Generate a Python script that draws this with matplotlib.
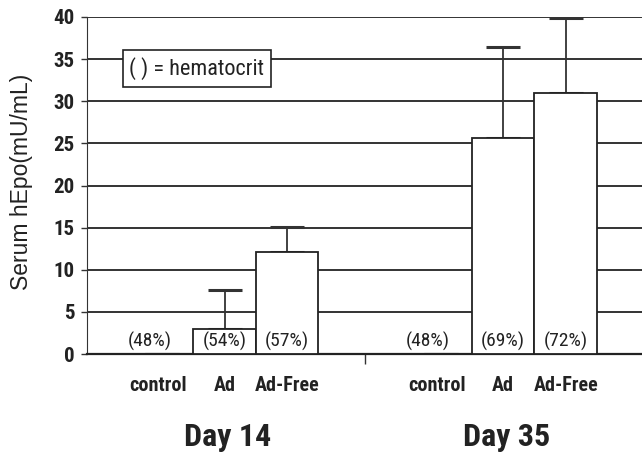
import matplotlib
matplotlib.use("Agg")
import matplotlib.pyplot as plt
import numpy as np

# values (Serum hEpo, mU/mL)
groups = ["Day 14", "Day 35"]
treatments = ["control", "Ad", "Ad-Free"]
day14_mean = [0.0, 3.0, 12.1]
day14_err = [0.0, 4.6, 3.0]
day35_mean = [0.0, 25.6, 31.0]
day35_err = [0.0, 10.8, 8.9]
day14_hct = ["(48%)", "(54%)", "(57%)"]
day35_hct = ["(48%)", "(69%)", "(72%)"]

narrow = ["Roboto Condensed", "DejaVu Sans"]
plain = ["Liberation Sans", "DejaVu Sans"]

fig = plt.figure(figsize=(6.42, 4.54), dpi=100)
ax = fig.add_axes([87 / 642, 1 - 354 / 454, 555 / 642, 337 / 454])

width = 1.0
starts = [1.2, 5.66]
divider = 4.45

for start, means, errs, hct in [(starts[0], day14_mean, day14_err, day14_hct),
                                (starts[1], day35_mean, day35_err, day35_hct)]:
    x = start + np.arange(len(treatments)) * width
    ax.bar(x, means, width=width, color="white", edgecolor="#222222",
           linewidth=1.3, zorder=3)
    ax.errorbar(x, means, yerr=[np.zeros(len(errs)), errs], fmt="none",
                ecolor="#333333", elinewidth=1.3, capsize=12.5, capthick=2.2,
                zorder=2)
    for i, (xi, lab) in enumerate(zip(x, hct)):
        dx = -0.2 if i == 0 else 0.0
        ax.text(xi + dx, 0.3, lab, ha="center", va="bottom", fontsize=14,
                family=narrow, color="#222222", zorder=4)
    for i, (xi, lab) in enumerate(zip(x, treatments)):
        dx = -0.06 if i == 0 else 0.0
        ax.text(xi + dx, -3.7, lab, ha="center", va="center", fontsize=14.5,
                family=narrow, fontweight="bold", color="#222222")

for start, g in zip(starts, groups):
    ax.text(start + 1.05, -9.8, g, ha="center", va="center", fontsize=23,
            family=narrow, fontweight="bold", color="#222222")

ax.set_xlim(0, 8.88)
ax.set_ylim(0, 40)
ax.set_yticks(np.arange(0, 41, 5))
ax.set_yticklabels([str(v) for v in range(0, 41, 5)], family=narrow,
                   fontweight="bold", fontsize=15, color="#222222")
ax.yaxis.grid(True, color="#333333", linewidth=1.4, zorder=0)
ax.set_axisbelow(True)
ax.set_xticks([divider])
ax.set_xticklabels([""])
ax.tick_params(axis="x", direction="out", length=7, width=1, color="#333333")
ax.tick_params(axis="y", direction="out", length=4, width=1, color="#333333",
               pad=5)

for s in ["top", "right"]:
    ax.spines[s].set_visible(False)
ax.spines["left"].set_color("#333333")
ax.spines["bottom"].set_color("#222222")
ax.spines["bottom"].set_linewidth(1.6)

ax.set_ylabel("Serum hEpo(mU/mL)", family=plain, fontsize=16.5, color="#222222")
ax.yaxis.set_label_coords(-0.097, 0.51)

ax.text(1.76, 33.9, "( ) = hematocrit", ha="center", va="center", fontsize=16,
        family=narrow, color="#222222", zorder=5,
        bbox=dict(boxstyle="square,pad=0.3", facecolor="white",
                  edgecolor="#222222", linewidth=1.2))

fig.savefig("out.png", dpi=100)
